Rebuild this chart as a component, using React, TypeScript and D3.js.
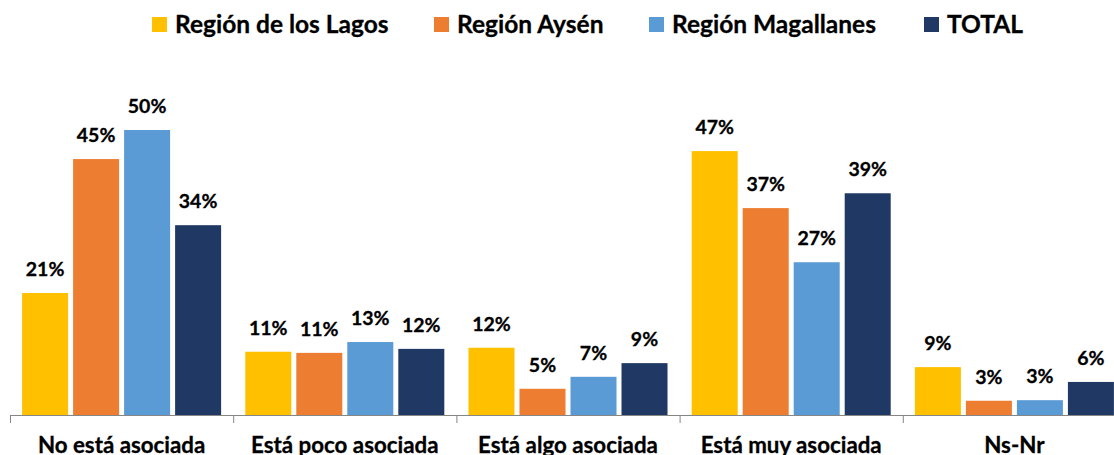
import * as d3 from "d3";

const width = 1114;
const height = 455;
const margin = { left: 10, baseline: 415 };

const categories = ["No está asociada", "Está poco asociada", "Está algo asociada", "Está muy asociada", "Ns-Nr"];
const seriesNames = ["Región de los Lagos", "Región Aysén", "Región Magallanes", "TOTAL"];
const colors = ["#FFC000", "#ED7D31", "#5B9BD5", "#203864"];

// bar heights (%)
const lagos = [21.4, 11.1, 11.8, 46.3, 8.4];
const aysen = [44.9, 10.9, 4.6, 36.3, 2.5];
const magallanes = [50.0, 12.8, 6.7, 26.8, 2.6];
const total = [33.3, 11.6, 9.1, 38.9, 5.8];

// printed labels
const lagosLabels = [21, 11, 12, 47, 9];
const aysenLabels = [45, 11, 5, 37, 3];
const magallanesLabels = [50, 13, 7, 27, 3];
const totalLabels = [34, 12, 9, 39, 6];

const series = [lagos, aysen, magallanes, total];
const labels = [lagosLabels, aysenLabels, magallanesLabels, totalLabels];

// legend layout (square x positions)
const legendX = [152, 434, 649, 924];

const font = "Lato, 'Open Sans', sans-serif";

const App = () => {
  const x0 = d3
    .scaleBand<string>()
    .domain(categories)
    .range([margin.left, margin.left + 223.2 * categories.length])
    .padding(0);

  const x1 = d3
    .scaleBand<number>()
    .domain(d3.range(seriesNames.length))
    .range([0, x0.bandwidth()])
    .paddingInner(0.098)
    .paddingOuter(0.237);

  const y = d3.scaleLinear().domain([0, 60]).range([margin.baseline, margin.baseline - 342]);

  return (
    <svg width={width} height={height} style={{ position: "absolute", left: 0, top: 0 }} fontFamily={font}>
      <rect width={width} height={height} fill="#fff" />

      {/* legend */}
      {seriesNames.map((name, i) => (
        <g key={name} transform={`translate(${legendX[i]}, 17)`}>
          <rect width={15} height={15} fill={colors[i]} />
          <text x={23} y={16} fontSize={24.5} fontWeight="bold" fill="#000" stroke="#000" strokeWidth={0.3}>
            {name}
          </text>
        </g>
      ))}

      {/* bars */}
      {categories.map((cat, ci) => (
        <g key={cat} transform={`translate(${x0(cat)}, 0)`}>
          {series.map((vals, si) => {
            const bx = x1(si)!;
            const by = y(vals[ci]);
            return (
              <g key={si}>
                <rect x={bx} y={by} width={x1.bandwidth()} height={margin.baseline - by} fill={colors[si]} />
                <text
                  x={bx + x1.bandwidth() / 2}
                  y={by - 17}
                  textAnchor="middle"
                  fontSize={19.5}
                  fontWeight="bold"
                  fill="#000"
                  stroke="#000"
                  strokeWidth={0.3}
                >
                  {labels[si][ci]}%
                </text>
              </g>
            );
          })}
          <text
            x={x0.bandwidth() / 2}
            y={453}
            textAnchor="middle"
            fontSize={22.3}
            fontWeight="bold"
            fill="#000"
            stroke="#000"
            strokeWidth={0.3}
          >
            {cat}
          </text>
        </g>
      ))}

      {/* axis */}
      <line x1={margin.left} x2={width} y1={margin.baseline + 0.5} y2={margin.baseline + 0.5} stroke="#868686" strokeWidth={1} />
      {categories.map((cat) => (
        <line
          key={cat}
          x1={x0(cat)! + 0.5}
          x2={x0(cat)! + 0.5}
          y1={margin.baseline}
          y2={margin.baseline + 8}
          stroke="#868686"
          strokeWidth={1}
        />
      ))}
    </svg>
  );
};

export default App;
